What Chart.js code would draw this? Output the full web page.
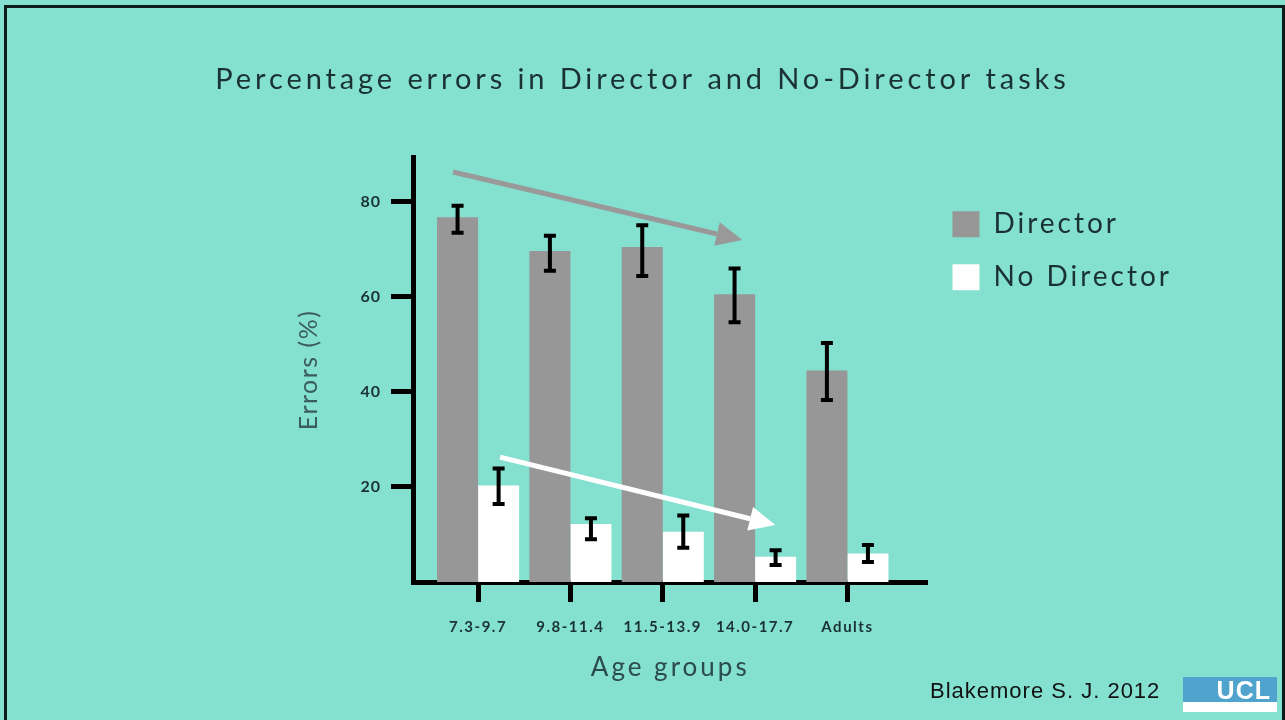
<!DOCTYPE html>
<html>
<head>
<meta charset="utf-8">
<script src="https://cdn.jsdelivr.net/npm/chart.js@4/dist/chart.umd.min.js"></script>
<style>
  html, body { margin: 0; padding: 0; background: #84e0cf; overflow: hidden; }
  #slide {
    position: absolute; left: 4px; top: 5px; width: 1281px; height: 800px;
    box-sizing: border-box; border: 3px solid #0c1d1a; background: #84e0cf;
  }
  #chart { position: absolute; left: 0; top: 0; }
  #cite {
    position: absolute; left: 930px; top: 678px; letter-spacing: 1px;
    font-family: 'Liberation Sans', sans-serif; font-size: 22px; color: #111;
  }
  #ucl {
    position: absolute; left: 1183px; top: 677px; width: 88px; height: 25px;
    background: #4fa3cd; color: #fff; font-family: 'Liberation Sans', sans-serif;
    font-weight: bold; font-size: 25px; line-height: 27px; text-align: right;
    padding-right: 6px; letter-spacing: 1px;
    border-bottom: 10px solid #fff;
  }
</style>
</head>
<body>
<div id="slide"></div>
<canvas id="chart" width="1285" height="720"></canvas>
<div id="cite">Blakemore S. J. 2012</div>
<div id="ucl">UCL</div>
<script>
(function() {

    var categories = ['7.3-9.7', '9.8-11.4', '11.5-13.9', '14.0-17.7', 'Adults'];
    var yTicks = [20, 40, 60, 80];

    var director = [76.8, 69.7, 70.5, 60.6, 44.5];
    var directorLow = [73.5, 65.5, 64.4, 54.7, 38.3];
    var directorHigh = [79.2, 72.9, 75.1, 66.0, 50.3];

    var noDirector = [20.3, 12.2, 10.6, 5.3, 6.0];
    var noDirectorLow = [16.4, 9.0, 7.2, 3.6, 4.2];
    var noDirectorHigh = [23.9, 13.4, 14.0, 6.7, 7.8];

    // trend arrows, in data units [x, y]
    var directorArrow = [[0.729, 86.3], [3.862, 72.0]];
    var noDirectorArrow = [[1.238, 26.3], [4.22, 12.0]];

    var ink = '#1b3232';
    var side = 103;

    // letter spacing per font size (the slide font is tracked out)
    var tracking = { 29: 3.9, 28: 3, 26: 3, 25: 1.5, 16: 1, 15: 1.5 };

    var ctx = document.getElementById('chart').getContext('2d');
    var fill = ctx.fillText, measure = ctx.measureText;
    function track(c) {
        var m = /(\d+(?:\.\d+)?)px/.exec(c.font);
        c.letterSpacing = ((m && tracking[+m[1]]) || 0) + 'px';
    }
    ctx.fillText = function() { track(this); return fill.apply(this, arguments); };
    ctx.measureText = function() { track(this); return measure.apply(this, arguments); };

    var errorBars = {
        id: 'errorBars',
        afterDatasetsDraw: function(chart) {
            var c = chart.ctx;
            var y = chart.scales.y;
            var lows = [directorLow, noDirectorLow];
            var highs = [directorHigh, noDirectorHigh];
            c.save();
            c.strokeStyle = '#000';
            c.lineWidth = 4;
            chart.data.datasets.forEach(function(ds, i) {
                chart.getDatasetMeta(i).data.forEach(function(bar, j) {
                    var top = y.getPixelForValue(highs[i][j]);
                    var bottom = y.getPixelForValue(lows[i][j]);
                    c.beginPath();
                    c.moveTo(bar.x, top); c.lineTo(bar.x, bottom);
                    c.moveTo(bar.x - 6, top); c.lineTo(bar.x + 6, top);
                    c.moveTo(bar.x - 6, bottom); c.lineTo(bar.x + 6, bottom);
                    c.stroke();
                });
            });
            c.restore();
        }
    };

    function drawArrow(c, chart, pts, color, width) {
        var x = chart.scales.x, y = chart.scales.y;
        var x0 = x.getPixelForValue(pts[0][0]), y0 = y.getPixelForValue(pts[0][1]);
        var x1 = x.getPixelForValue(pts[1][0]), y1 = y.getPixelForValue(pts[1][1]);
        var a = Math.atan2(y1 - y0, x1 - x0);
        var len = 26, half = 12;
        var bx = x1 - len * Math.cos(a), by = y1 - len * Math.sin(a);
        c.save();
        c.strokeStyle = color;
        c.fillStyle = color;
        c.lineWidth = width;
        c.beginPath();
        c.moveTo(x0, y0);
        c.lineTo(bx, by);
        c.stroke();
        c.beginPath();
        c.moveTo(x1, y1);
        c.lineTo(bx + half * Math.sin(a), by - half * Math.cos(a));
        c.lineTo(bx - half * Math.sin(a), by + half * Math.cos(a));
        c.closePath();
        c.fill();
        c.restore();
    }

    var arrows = {
        id: 'arrows',
        afterDatasetsDraw: function(chart) {
            drawArrow(chart.ctx, chart, directorArrow, '#999999', 5);
            drawArrow(chart.ctx, chart, noDirectorArrow, '#ffffff', 5);
        }
    };

    var config = {
        type: 'bar',
        data: {
            datasets: [{
                label: 'Director',
                data: director.map(function(v, i) { return {x: i + 1, y: v}; }),
                backgroundColor: '#979797',
                borderWidth: 0
            }, {
                label: 'No Director',
                data: noDirector.map(function(v, i) { return {x: i + 1, y: v}; }),
                backgroundColor: '#ffffff',
                borderWidth: 0
            }]
        },
        options: {
            responsive: false,
            animation: false,
            categoryPercentage: 0.889,
            barPercentage: 1,
            layout: { padding: { left: side, right: side, top: 0, bottom: 0 } },
            scales: {
                x: {
                    type: 'linear',
                    min: 0.295,
                    max: 5.867,
                    offset: false,
                    afterBuildTicks: function(scale) {
                        scale.ticks = categories.map(function(c, i) { return {value: i + 1}; });
                    },
                    afterFit: function(scale) { scale.height = 138; },
                    ticks: {
                        autoSkip: false,
                        maxRotation: 0,
                        padding: 16,
                        color: ink,
                        font: { family: 'Lato', size: 15, weight: 'bold' },
                        callback: function(v) { return categories[v - 1] || ''; }
                    },
                    grid: { drawOnChartArea: false, offset: false, tickLength: 20, tickWidth: 5, tickColor: '#000' },
                    border: { display: true, color: '#000', width: 5 },
                    title: {
                        display: true,
                        text: 'Age groups',
                        color: '#2c4c4c',
                        font: { family: 'Lato', size: 26 },
                        padding: { top: 0, bottom: 37 }
                    }
                },
                y: {
                    min: 0,
                    max: 89.3,
                    afterBuildTicks: function(scale) {
                        scale.ticks = yTicks.map(function(v) { return {value: v}; });
                    },
                    afterFit: function(scale) { scale.width = 413 - side; },
                    ticks: {
                        padding: 10,
                        color: ink,
                        font: { family: 'Lato', size: 16, weight: 'bold' }
                    },
                    grid: { drawOnChartArea: false, tickLength: 22, tickWidth: 5, tickColor: '#000' },
                    border: { display: true, color: '#000', width: 5 },
                    title: {
                        display: true,
                        text: 'Errors (%)',
                        color: '#3a5c5c',
                        font: { family: 'Lato', size: 25 },
                        padding: { top: 309 - 15 - side, bottom: 0 }
                    }
                }
            },
            plugins: {
                title: {
                    display: true,
                    text: 'Percentage errors in Director and No-Director tasks',
                    color: ink,
                    font: { family: 'Lato', size: 29, weight: 'normal' },
                    padding: { top: 62, bottom: 61 }
                },
                legend: {
                    position: 'right',
                    align: 'start',
                    fullSize: false,
                    title: { display: true, text: ' ', font: { size: 10 }, padding: { top: 15.5, bottom: 0 } },
                    labels: {
                        boxWidth: 27,
                        boxHeight: 26,
                        padding: 25,
                        color: ink,
                        font: { family: 'Lato', size: 28 }
                    }
                },
                tooltip: { enabled: false }
            }
        },
        plugins: [errorBars, arrows]
    };

    var myChart = new Chart(ctx, config);

})();
</script>
</body>
</html>
